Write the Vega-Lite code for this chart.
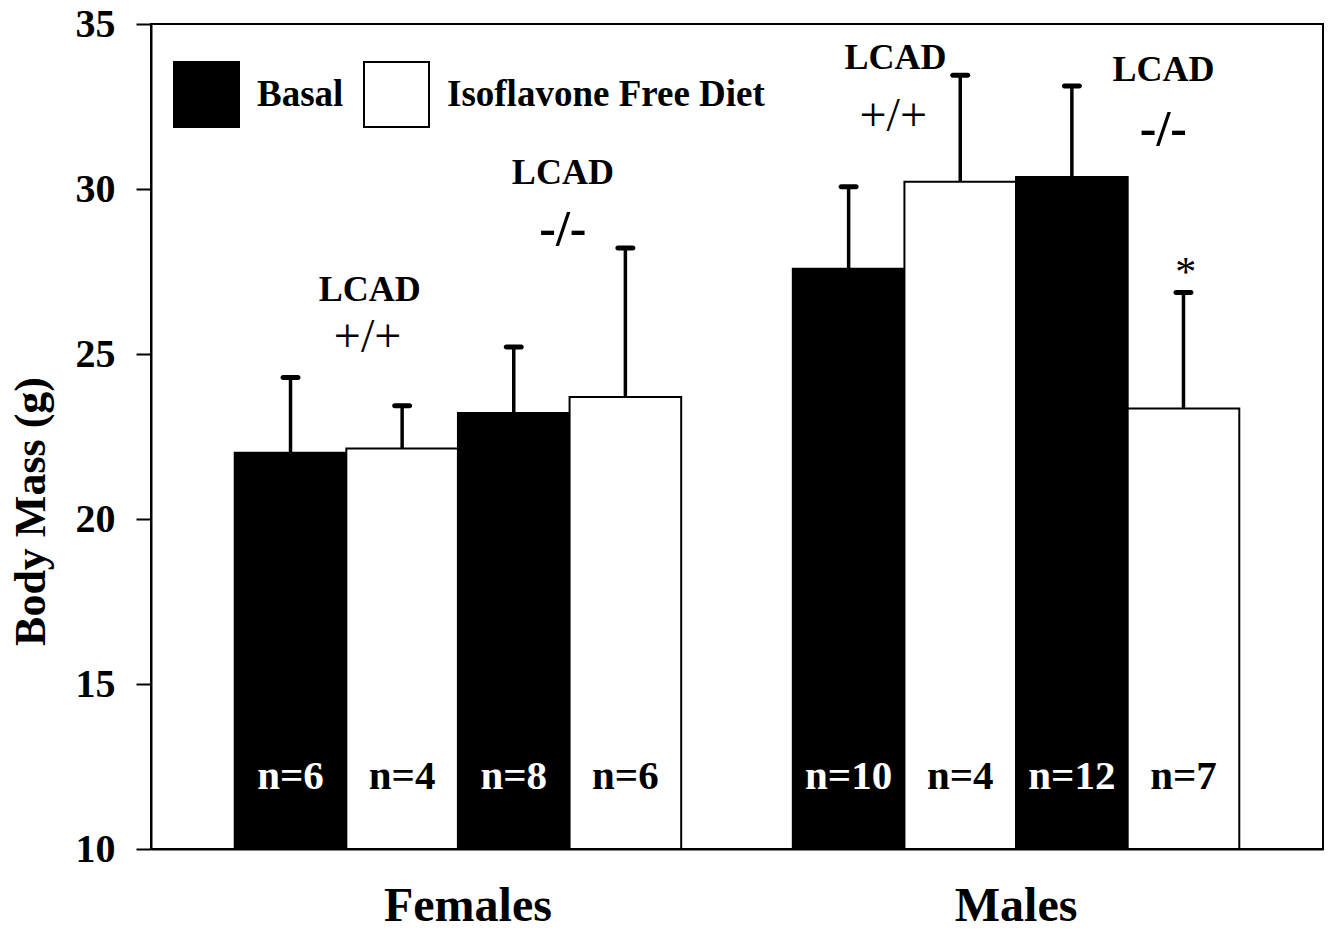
{
  "$schema": "https://vega.github.io/schema/vega-lite/v6.json",
  "width": 1172,
  "height": 825,
  "autosize": {"type": "none"},
  "padding": {"left": 151, "top": 24, "right": 8, "bottom": 82},
  "background": "white",
  "config": {
    "view": {"stroke": "black", "strokeWidth": 2},
    "font": "Liberation Serif",
    "axis": {"grid": false, "domainColor": "black", "domainWidth": 2, "tickColor": "black", "tickWidth": 2, "labelColor": "black", "titleColor": "black", "labelFont": "Liberation Serif", "titleFont": "Liberation Serif", "labelFontWeight": "bold", "titleFontWeight": "bold"}
  },
  "datasets": {
    "bars": [
      {"sex": "Females", "bar": "WT-Basal", "diet": "Basal", "mean": 22.01, "upper": 24.29, "n": "n=6"},
      {"sex": "Females", "bar": "WT-IFD", "diet": "Isoflavone Free Diet", "mean": 22.14, "upper": 23.43, "n": "n=4"},
      {"sex": "Females", "bar": "KO-Basal", "diet": "Basal", "mean": 23.21, "upper": 25.21, "n": "n=8"},
      {"sex": "Females", "bar": "KO-IFD", "diet": "Isoflavone Free Diet", "mean": 23.70, "upper": 28.21, "n": "n=6"},
      {"sex": "Males", "bar": "WT-Basal", "diet": "Basal", "mean": 27.58, "upper": 30.07, "n": "n=10"},
      {"sex": "Males", "bar": "WT-IFD", "diet": "Isoflavone Free Diet", "mean": 30.22, "upper": 33.45, "n": "n=4"},
      {"sex": "Males", "bar": "KO-Basal", "diet": "Basal", "mean": 30.36, "upper": 33.12, "n": "n=12"},
      {"sex": "Males", "bar": "KO-IFD", "diet": "Isoflavone Free Diet", "mean": 23.35, "upper": 26.86, "n": "n=7"}
    ],
    "notes": [
      {"sex": "Females", "pos": 1.21, "y": 26.94, "label": "LCAD", "kind": "lcad"},
      {"sex": "Females", "pos": 1.19, "y": 25.5, "label": "+/+", "kind": "wt"},
      {"sex": "Females", "pos": 2.94, "y": 30.48, "label": "LCAD", "kind": "lcad"},
      {"sex": "Females", "pos": 2.94, "y": 28.76, "label": "-/-", "kind": "ko"},
      {"sex": "Males", "pos": 0.92, "y": 33.96, "label": "LCAD", "kind": "lcad"},
      {"sex": "Males", "pos": 0.9, "y": 32.19, "label": "+/+", "kind": "wt"},
      {"sex": "Males", "pos": 3.32, "y": 33.61, "label": "LCAD", "kind": "lcad"},
      {"sex": "Males", "pos": 3.32, "y": 31.79, "label": "-/-", "kind": "ko"},
      {"sex": "Males", "pos": 3.52, "y": 27.45, "label": "*", "kind": "star"}
    ]
  },
  "encoding": {
    "x": {"field": "sex", "type": "nominal", "sort": ["Females", "Males"],
      "scale": {"paddingInner": 0.2, "paddingOuter": 0.15},
      "axis": {"title": null, "ticks": false, "tickSize": 0, "labelAngle": 0, "labelFontSize": 48, "labelPadding": 33, "labelBaseline": "top",
        "labelOffset": {"condition": {"test": "datum.value === 'Females'", "value": 10}, "value": 0}}},
    "y": {"type": "quantitative",
      "scale": {"domain": [10, 35], "nice": false, "zero": false},
      "axis": {"title": "Body Mass (g)", "values": [10, 15, 20, 25, 30, 35], "tickSize": 15, "labelFontSize": 40, "labelPadding": 21, "titleFontSize": 44, "titleAngle": 270, "titleAlign": "center", "titleBaseline": "middle", "titleX": -120, "titleY": 487}}
  },
  "layer": [
    {
      "data": {"name": "bars"},
      "mark": {"type": "bar", "stroke": "black", "strokeWidth": 2},
      "encoding": {
        "xOffset": {"field": "bar", "type": "nominal", "sort": ["WT-Basal", "WT-IFD", "KO-Basal", "KO-IFD"], "scale": {"paddingInner": 0, "paddingOuter": 0}},
        "y": {"field": "mean", "type": "quantitative"},
        "y2": {"datum": 10},
        "fill": {"field": "diet", "type": "nominal",
          "scale": {"domain": ["Basal", "Isoflavone Free Diet"], "range": ["black", "white"]},
          "legend": {"title": null, "orient": "none", "legendX": 22, "legendY": 37, "direction": "horizontal", "symbolType": "square", "symbolSize": 4225, "symbolStrokeColor": "black", "symbolStrokeWidth": 2, "labelFont": "Liberation Serif", "labelFontWeight": "bold", "labelFontSize": 37, "labelColor": "black", "labelOffset": 17, "labelLimit": 0, "columnPadding": 16, "padding": 0}}
      }
    },
    {
      "data": {"name": "bars"},
      "mark": {"type": "rule", "color": "black", "strokeWidth": 3.5},
      "encoding": {
        "xOffset": {"field": "bar", "type": "nominal", "sort": ["WT-Basal", "WT-IFD", "KO-Basal", "KO-IFD"], "scale": {"paddingInner": 0, "paddingOuter": 0}},
        "y": {"field": "mean", "type": "quantitative"},
        "y2": {"field": "upper"}
      }
    },
    {
      "data": {"name": "bars"},
      "mark": {"type": "tick", "color": "black", "size": 20, "thickness": 5, "cornerRadius": 2.5, "opacity": 1},
      "encoding": {
        "xOffset": {"field": "bar", "type": "nominal", "sort": ["WT-Basal", "WT-IFD", "KO-Basal", "KO-IFD"], "scale": {"paddingInner": 0, "paddingOuter": 0}},
        "y": {"field": "upper", "type": "quantitative"}
      }
    },
    {
      "data": {"name": "bars"},
      "mark": {"type": "text", "font": "Liberation Serif", "fontWeight": "bold", "fontSize": 41, "align": "center", "baseline": "middle"},
      "encoding": {
        "xOffset": {"field": "bar", "type": "nominal", "sort": ["WT-Basal", "WT-IFD", "KO-Basal", "KO-IFD"], "scale": {"type": "band", "paddingInner": 0, "paddingOuter": 0}, "bandPosition": 0.5},
        "y": {"datum": 12.17},
        "text": {"field": "n"},
        "color": {"condition": {"test": "datum.diet === 'Basal'", "value": "white"}, "value": "black"}
      }
    },
    {
      "data": {"name": "notes"},
      "transform": [{"filter": "datum.kind === 'lcad'"}],
      "mark": {"type": "text", "font": "Liberation Serif", "fontWeight": "bold", "fontSize": 36, "align": "center", "baseline": "middle", "color": "black"},
      "encoding": {
        "xOffset": {"field": "pos", "type": "quantitative", "scale": {"domain": [0, 4], "nice": false, "zero": false}},
        "y": {"field": "y", "type": "quantitative"},
        "text": {"field": "label"}
      }
    },
    {
      "data": {"name": "notes"},
      "transform": [{"filter": "datum.kind === 'wt'"}],
      "mark": {"type": "text", "font": "Liberation Serif", "fontWeight": "normal", "fontSize": 48, "align": "center", "baseline": "middle", "color": "black"},
      "encoding": {
        "xOffset": {"field": "pos", "type": "quantitative", "scale": {"domain": [0, 4], "nice": false, "zero": false}},
        "y": {"field": "y", "type": "quantitative"},
        "text": {"field": "label"}
      }
    },
    {
      "data": {"name": "notes"},
      "transform": [{"filter": "datum.kind === 'ko'"}],
      "mark": {"type": "text", "font": "Liberation Serif", "fontWeight": "bold", "fontSize": 50, "align": "center", "baseline": "middle", "color": "black"},
      "encoding": {
        "xOffset": {"field": "pos", "type": "quantitative", "scale": {"domain": [0, 4], "nice": false, "zero": false}},
        "y": {"field": "y", "type": "quantitative"},
        "text": {"field": "label"}
      }
    },
    {
      "data": {"name": "notes"},
      "transform": [{"filter": "datum.kind === 'star'"}],
      "mark": {"type": "text", "font": "Liberation Serif", "fontWeight": "normal", "fontSize": 42, "align": "center", "baseline": "middle", "color": "black"},
      "encoding": {
        "xOffset": {"field": "pos", "type": "quantitative", "scale": {"domain": [0, 4], "nice": false, "zero": false}},
        "y": {"field": "y", "type": "quantitative"},
        "text": {"field": "label"}
      }
    }
  ],
  "resolve": {"scale": {"xOffset": "independent"}}
}
